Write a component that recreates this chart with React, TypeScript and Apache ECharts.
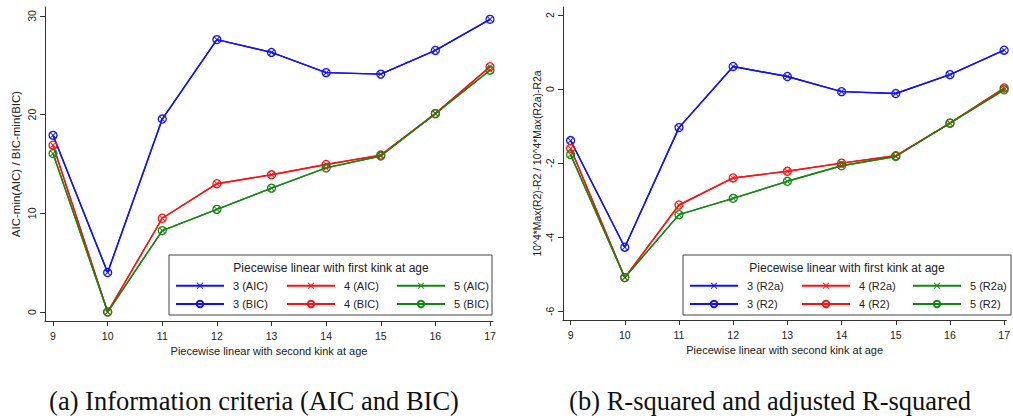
import React, { useEffect, useRef } from "react";
import * as echarts from "echarts";

const ages = [9, 10, 11, 12, 13, 14, 15, 16, 17];
// Panel (a): AIC-min(AIC) / BIC-min(BIC) (AIC and BIC differences coincide)
const ic3 = [17.9, 4.0, 19.55, 27.6, 26.3, 24.25, 24.1, 26.5, 29.65];
const ic4 = [16.9, 0, 9.5, 13.0, 13.9, 14.95, 15.9, 20.1, 24.85];
const ic5 = [16.05, 0, 8.25, 10.4, 12.55, 14.6, 15.8, 20.1, 24.5];
// Panel (b): 10^4*Max(R2)-R2 / 10^4*Max(R2a)-R2a
const rs3 = [-1.39, -4.27, -1.04, 0.61, 0.34, -0.07, -0.12, 0.39, 1.05];
const rs4 = [-1.6, -5.09, -3.13, -2.4, -2.22, -2.0, -1.8, -0.92, 0.03];
const rs5 = [-1.77, -5.09, -3.39, -2.95, -2.49, -2.07, -1.82, -0.92, -0.02];

const yTicksA = [0, 10, 20, 30];
const yTicksB = [-6, -4, -2, 0, 2];
const kinks = ["3", "4", "5"];
const colors = ["#1010ff", "#ff1010", "#118811"];

const SANS = "'Liberation Sans', Arial, Helvetica, sans-serif";
const SERIF = "'Liberation Serif', 'DejaVu Serif', serif";
const XSYM = "path://M0,1L1,0L5,4L9,0L10,1L6,5L10,9L9,10L5,6L1,10L0,9L4,5Z";

function pairs(vals: number[]) {
  return ages.map((a, i) => [a, vals[i]]);
}

export default function App() {
  const ref = useRef<HTMLDivElement>(null);
  useEffect(() => {
    if (!ref.current) return;
    const chart = echarts.init(ref.current, null, { renderer: "svg" });

    const groups = [
      { data: [ic3, ic4, ic5], tags: ["AIC", "BIC"], idx: 0 },
      { data: [rs3, rs4, rs5], tags: ["R2a", "R2"], idx: 1 },
    ];

    const series: any[] = [];
    groups.forEach((g) => {
      g.data.forEach((vals, k) => {
        series.push({
          type: "line",
          name: `${kinks[k]} (${g.tags[0]})`,
          xAxisIndex: g.idx,
          yAxisIndex: g.idx,
          data: pairs(vals),
          symbol: XSYM,
          symbolSize: 6,
          itemStyle: { color: colors[k] },
          lineStyle: { color: colors[k], width: 1.4 },
          z: 2,
        });
      });
      g.data.forEach((vals, k) => {
        series.push({
          type: "line",
          name: `${kinks[k]} (${g.tags[1]})`,
          xAxisIndex: g.idx,
          yAxisIndex: g.idx,
          data: pairs(vals),
          symbol: "circle",
          symbolSize: 8,
          itemStyle: { color: "rgba(255,255,255,0)", borderColor: colors[k], borderWidth: 1.3 },
          lineStyle: { color: colors[k], width: 1.4 },
          z: 3,
        });
      });
    });

    const axisCommon = {
      axisLine: { show: true, onZero: false, lineStyle: { color: "#333", width: 1 } },
      axisTick: { show: true, length: 5, lineStyle: { color: "#333" } },
      splitLine: { show: false },
    };

    const xAxis = [
      { min: 8.853, max: 17.055, gridIndex: 0 },
      { min: 8.86, max: 17.04, gridIndex: 1 },
    ].map((a) => ({
      type: "value",
      ...a,
      ...axisCommon,
      axisTick: { ...axisCommon.axisTick, customValues: ages },
      axisLabel: { customValues: ages, fontFamily: SANS, fontSize: 10.5, color: "#222", margin: 9 },
      name: "Piecewise linear with second kink at age",
      nameLocation: "middle",
      nameGap: 22,
      nameTextStyle: { fontFamily: SANS, fontSize: 11, color: "#222" },
    }));

    const yAxis = [
      { min: -0.91, max: 30.9, gridIndex: 0, ticks: yTicksA, name: "AIC-min(AIC) / BIC-min(BIC)", gap: 23, fs: 11.5 },
      { min: -6.235, max: 2.216, gridIndex: 1, ticks: yTicksB, name: "10^4*Max(R2)-R2 / 10^4*Max(R2a)-R2a", gap: 21, fs: 10.4 },
    ].map((a) => ({
      type: "value",
      min: a.min,
      max: a.max,
      gridIndex: a.gridIndex,
      ...axisCommon,
      axisTick: { ...axisCommon.axisTick, customValues: a.ticks },
      axisLabel: { customValues: a.ticks, rotate: 90, fontFamily: SANS, fontSize: 10.5, color: "#222", margin: 8 },
      name: a.name,
      nameLocation: "middle",
      nameGap: a.gap,
      nameTextStyle: { fontFamily: SANS, fontSize: a.fs, color: "#222" },
    }));

    const legendCols = [
      { left: 175, names: ["3 (AIC)", "3 (BIC)"] },
      { left: 286, names: ["4 (AIC)", "4 (BIC)"] },
      { left: 396, names: ["5 (AIC)", "5 (BIC)"] },
      { left: 689, names: ["3 (R2a)", "3 (R2)"] },
      { left: 801, names: ["4 (R2a)", "4 (R2)"] },
      { left: 912, names: ["5 (R2a)", "5 (R2)"] },
    ];
    const legend = legendCols.map((c) => ({
      data: c.names,
      left: c.left,
      top: 278.7,
      orient: "vertical",
      padding: 0,
      itemGap: 4.3,
      itemWidth: 48,
      itemHeight: 8,
      selectedMode: false,
      textStyle: { fontFamily: SANS, fontSize: 11, color: "#222", lineHeight: 14, padding: [0, 0, 0, 4] },
    }));

    const legendBoxes = [
      { x: 169, w: 323, cx: 331 },
      { x: 683, w: 328, cx: 847 },
    ];
    const graphic: any[] = [];
    legendBoxes.forEach((b) => {
      graphic.push({
        type: "rect",
        shape: { x: b.x, y: 255, width: b.w, height: 60 },
        style: { fill: "#fff", stroke: "#444", lineWidth: 1 },
        z: 1,
      });
      graphic.push({
        type: "text",
        x: b.cx,
        y: 268,
        style: { text: "Piecewise linear with first kink at age", fontFamily: SANS, fontSize: 12, fill: "#222", align: "center", verticalAlign: "middle" },
        z: 2,
      });
    });
    graphic.push({
      type: "text",
      x: 254,
      y: 401,
      style: { text: "(a) Information criteria (AIC and BIC)", fontFamily: SERIF, fontSize: 26.5, fill: "#111", align: "center", verticalAlign: "middle" },
    });
    graphic.push({
      type: "text",
      x: 770,
      y: 401,
      style: { text: "(b) R-squared and adjusted R-squared", fontFamily: SERIF, fontSize: 26.5, fill: "#111", align: "center", verticalAlign: "middle" },
    });

    chart.setOption({
      animation: false,
      backgroundColor: "#fff",
      grid: [
        { left: 45, top: 7, width: 448, height: 314 },
        { left: 563, top: 7, width: 448, height: 313 },
      ],
      xAxis,
      yAxis,
      legend,
      series,
      graphic,
    } as any);
    return () => chart.dispose();
  }, []);
  return <div ref={ref} style={{ position: "absolute", left: 0, top: 0, width: 1013, height: 418 }} />;
}
